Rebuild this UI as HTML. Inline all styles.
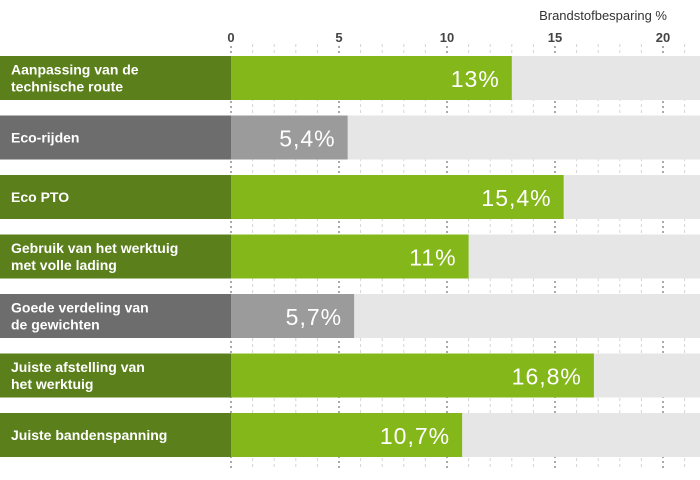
<!DOCTYPE html>
<html><head><meta charset="utf-8"><style>
body{margin:0;width:700px;height:480px;background:#fff;overflow:hidden;font-family:"Liberation Sans","DejaVu Sans",sans-serif}
svg{display:block}
</style></head><body>
<svg id="chart" width="700" height="480" xmlns="http://www.w3.org/2000/svg"></svg>
<script>
const categories=[["Aanpassing van de","technische route"],["Eco-rijden"],["Eco PTO"],["Gebruik van het werktuig","met volle lading"],["Goede verdeling van","de gewichten"],["Juiste afstelling van","het werktuig"],["Juiste bandenspanning"]];
const values=[13,5.4,15.4,11,5.7,16.8,10.7];
const valueLabels=["13%","5,4%","15,4%","11%","5,7%","16,8%","10,7%"];
const highlighted=[true,false,true,true,false,true,true];
const ticks=[0,5,10,15,20];
const NS="http://www.w3.org/2000/svg";
const svg=document.getElementById('chart');
const x0=231,unit=21.6;
const xs=v=>x0+v*unit;
const rowY=i=>56+i*59.5;
function el(t,a,p){const e=document.createElementNS(NS,t);for(const k in a)e.setAttribute(k,a[k]);(p||svg).appendChild(e);return e;}
// minor grid
for(let v=1;v<=21;v++){if(v%5===0)continue;const l=el('line',{x1:xs(v),x2:xs(v),y1:44,y2:470,stroke:'#d4d4d4','stroke-width':1,'stroke-dasharray':'3,3'});

}
// major ticks
ticks.forEach(v=>{const l=el('line',{x1:xs(v),x2:xs(v),y1:46,y2:470,stroke:'#555','stroke-width':1,'stroke-dasharray':'2,3'});


const t=el('text',{x:xs(v),y:42,fill:'#444','font-size':13,'font-weight':'bold','text-anchor':'middle'});t.textContent=v;

});
// tracks
categories.forEach((c,i)=>{const r=el('rect',{x:x0+1,y:rowY(i),width:700-x0,height:44,fill:'#e6e6e6'});

});
// bars
categories.forEach((c,i)=>{const y=rowY(i);const hi=highlighted[i];
const lb=el('rect',{x:0,y:y,width:x0,height:44,fill:hi?'#5a7f1b':'#6d6d6d'});


const b=el('rect',{x:x0,y:y,width:xs(values[i])-x0,height:44,fill:hi?'#84b71a':'#9b9b9b'});


const n=c.length;c.forEach((line,j)=>{const t=el('text',{x:11,y:y+22+(j-(n-1)/2)*17+5,fill:'#fff','font-size':14,'font-weight':'bold'});t.textContent=line;

});
const vt=el('text',{x:xs(values[i])-12,y:y+31,fill:'#fff','font-size':23,'text-anchor':'end','letter-spacing':'1'});vt.textContent=valueLabels[i];

});
const at=el('text',{x:667,y:20,fill:'#333','font-size':13,'text-anchor':'end'});at.textContent='Brandstofbesparing %';


</script>
</body></html>
